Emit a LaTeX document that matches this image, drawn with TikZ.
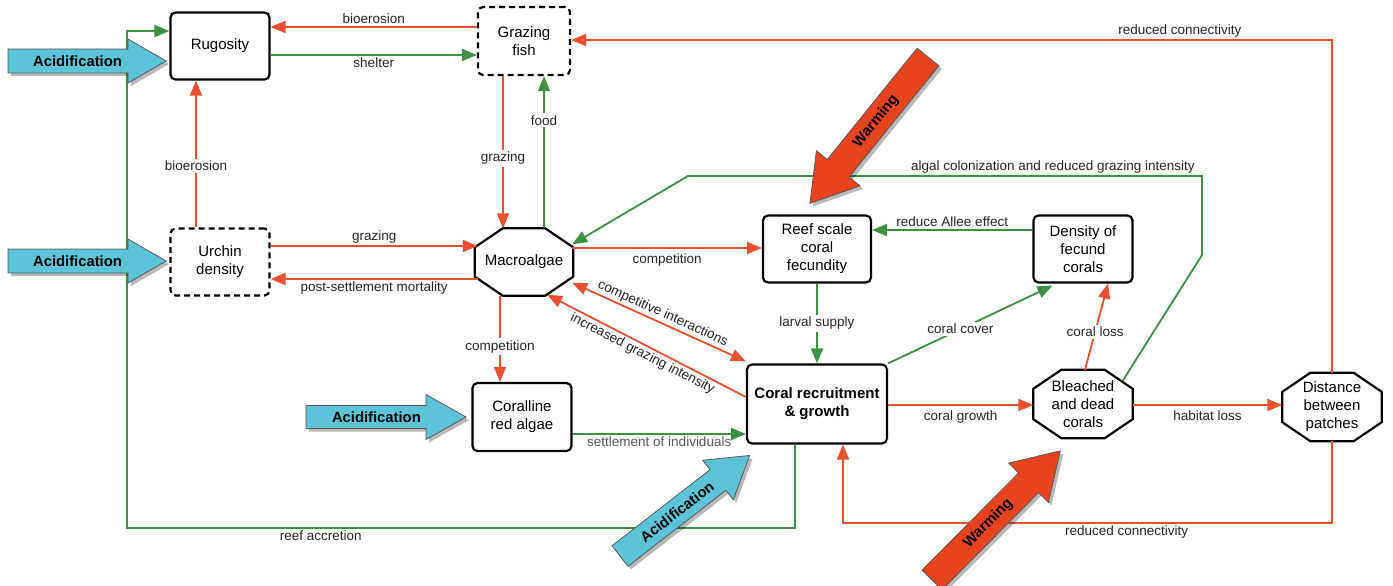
\documentclass[tikz,border=0pt]{standalone}
\usepackage{fontspec}
\setmainfont{Liberation Sans}
\usetikzlibrary{arrows.meta,calc}
\definecolor{lred}{HTML}{E8502F}
\definecolor{lgreen}{HTML}{3E9142}
\definecolor{acid}{HTML}{5DC4D8}
\definecolor{warm}{HTML}{E8431F}
\newcount\facount
% #1 tail, #2 angle, #3 length, #4 body half width, #5 head half width, #6 head length, #7 fill, #8 text, #9 extra text rotation
\newcommand\fatarrow[9]{%
  \global\advance\facount by 1
  \begin{scope}[shift={#1}, shift={(3,3)}, rotate=#2]
    \fill[black, opacity=0.28] (0,-#4) -- ({#3-#6},-#4) -- ({#3-#6},-#5) -- (#3,0) -- ({#3-#6},#5) -- ({#3-#6},#4) -- (0,#4) -- cycle;
  \end{scope}
  \begin{scope}[shift={#1}, rotate=#2]
    \draw[fill=#7, draw=black!65, line width=0.8pt, line join=miter] (0,-#4) -- ({#3-#6},-#4) -- ({#3-#6},-#5) -- (#3,0) -- ({#3-#6},#5) -- ({#3-#6},#4) -- (0,#4) -- cycle;
    \node[transform shape, rotate=#9, font=\bfseries\fontsize{14.8}{16}\selectfont, inner sep=0pt] (fa\the\facount) at ({#3*0.44},0) {#8};
  \end{scope}}
\newcommand\octagon[1]{%
  \draw[line width=2.2pt, line join=miter] ($(#1.north west)+(28,0)$) -- ($(#1.north east)+(-28,0)$) -- ($(#1.north east)+(0,19)$) -- ($(#1.south east)+(0,-19)$) -- ($(#1.south east)+(-28,0)$) -- ($(#1.south west)+(28,0)$) -- ($(#1.south west)+(0,-19)$) -- ($(#1.north west)+(0,19)$) -- cycle;}
\begin{document}
\begin{tikzpicture}[x=1pt,y=-1pt,
  nodefont/.style={font=\fontsize{15}{18}\selectfont},
  box/.style={draw, line width=2.2pt, rounded corners=5pt, align=center, nodefont, minimum width=99pt, minimum height=67pt, inner sep=2pt},
  dbox/.style={box, dash pattern=on 6pt off 4pt},
  octnode/.style={align=center, nodefont, minimum width=99pt, minimum height=67pt, inner sep=0pt},
  lab/.style={font=\fontsize{13.5}{16}\selectfont, text=black!85, inner sep=2pt},
  cr/.style={draw=lred, line width=1.8pt, >={Triangle[length=15pt,width=12pt]}},
  cg/.style={draw=lgreen, line width=1.8pt, >={Triangle[length=15pt,width=12pt]}}]
\useasboundingbox (0,0) rectangle (1393,586);
\fill[white] (0,0) rectangle (1393,586);

% nodes
\node[box] (rug) at (220,46) {Rugosity};
\node[dbox, minimum width=92pt, minimum height=68pt] (fish) at (524,41) {Grazing\\fish};
\node[dbox] (urch) at (220,262) {Urchin\\density};
\node[octnode, minimum width=98pt] (mac) at (524,262) {Macroalgae};
\node[box, minimum width=108pt] (reef) at (817,249) {Reef scale\\coral\\fecundity};
\node[box] (dens) at (1083,249) {Density of\\fecund\\corals};
\node[box, minimum height=68pt] (coral) at (522,417) {Coralline\\red algae};
\node[box, minimum width=140pt, minimum height=79pt, font=\bfseries\fontsize{15}{18}\selectfont] (rec) at (817,404) {Coral recruitment\\\& growth};
\node[octnode, minimum height=68pt] (bleach) at (1083,404) {Bleached\\and dead\\corals};
\node[octnode, minimum height=68pt] (dist) at (1332,407) {Distance\\between\\patches};
\octagon{mac}
\octagon{bleach}
\octagon{dist}

% connectors
\draw[cr,->] (fish.west |- 0,27) -- node[lab,above]{bioerosion} (rug.east |- 0,27);
\draw[cg,->] (rug.east |- 0,55) -- node[lab,below]{shelter} (fish.west |- 0,55);
\draw[cr,->] (urch.north -| 196,0) -- node[lab,fill=white,pos=0.42]{bioerosion} (rug.south -| 196,0);
\draw[cr,->] (urch.east |- 0,246) -- node[lab,above]{grazing} ($(mac.west |- 0,246)+(3,0)$);
\draw[cr,->] ($(mac.west |- 0,279)+(3,0)$) -- node[lab,below]{post-settlement mortality} (urch.east |- 0,279);
\draw[cr,->] (fish.south -| 503,0) -- node[lab,fill=white,pos=0.54]{grazing} (mac.north -| 503,0);
\draw[cg,->] (mac.north -| 544,0) -- node[lab,fill=white,pos=0.71]{food} (fish.south -| 544,0);
\draw[cr,->] ($(mac.east |- 0,248)+(-1,0)$) -- node[lab,below=3pt]{competition} (reef.west |- 0,248);
\draw[cg,->] (dens.west |- 0,230) -- node[lab,above]{reduce Allee effect} (reef.east |- 0,230);
\draw[cg,->] (reef.south) -- node[lab,fill=white]{larval supply} (rec.north);
\draw[cg,->] (rec.north east) -- node[lab,fill=white,pos=0.44]{coral cover} ($(dens.south west)+(20,2)$);
\draw[cr,->] ($(bleach.north)+(2,0)$) -- node[lab,fill=white,pos=0.44]{coral loss} ($(dens.south)+(25,0)$);
\draw[cr,->] (rec.east |- 0,405) -- node[lab,below=3pt]{coral growth} (bleach.west |- 0,405);
\draw[cr,->] (bleach.east |- 0,405) -- node[lab,below=3pt]{habitat loss} (dist.west |- 0,405);
\draw[cr,->] (dist.south) -- (dist.south |- 0,523) -- node[lab,below,pos=0.42]{reduced connectivity} (843,523) -- (rec.south -| 843,0);
\draw[cr,->] (dist.north) -- (dist.north |- 0,40) -- node[lab,above,pos=0.2]{reduced connectivity} (fish.east |- 0,40);
\draw[cg,->] ($(bleach.north east)+(-10,11)$) -- (1202,255) -- (1202,176) -- node[lab,above,pos=0.29]{algal colonization and reduced grazing intensity} (688,176) -- ($(mac.north east)+(-1,16)$);
\draw[cr,<->] ($(mac.south east)+(-1,-13)$) -- node[lab,above,sloped]{competitive interactions} ($(rec.north west)+(0,-2)$);
\draw[cr,<-] ($(mac.south east)+(-26,-1)$) -- node[lab,below,sloped]{increased grazing intensity} ($(rec.west)+(0,-7)$);
\draw[cr,->] (mac.south -| 500,0) -- node[lab,fill=white,pos=0.59]{competition} (coral.north -| 500,0);
\draw[cg,->] (coral.east |- 0,434) -- node[lab,below,text=black!65]{settlement of individuals} (rec.west |- 0,434);
\draw[cg,->] (rec.south -| 795,0) -- (795,528) -- node[lab,below,pos=0.71]{reef accretion} (127,528) -- (127,31) -- (rug.west |- 0,31);

% big arrows
\fatarrow{(8,61)}{0}{158}{12}{22}{38}{acid}{Acidification}{0}
\fatarrow{(8,261)}{0}{158}{12}{22}{38}{acid}{Acidification}{0}
\fatarrow{(306,417)}{0}{160}{11.5}{22.5}{40}{acid}{Acidification}{0}
\fatarrow{(620,556)}{37.8}{164}{13}{25}{40}{acid}{Acidification}{0}
\fatarrow{(928,57)}{-128.9}{188}{14}{28}{45}{warm}{Warming}{180}
\fatarrow{(932,580)}{45.2}{182}{14}{28}{45}{warm}{Warming}{0}
\end{tikzpicture}
\end{document}
